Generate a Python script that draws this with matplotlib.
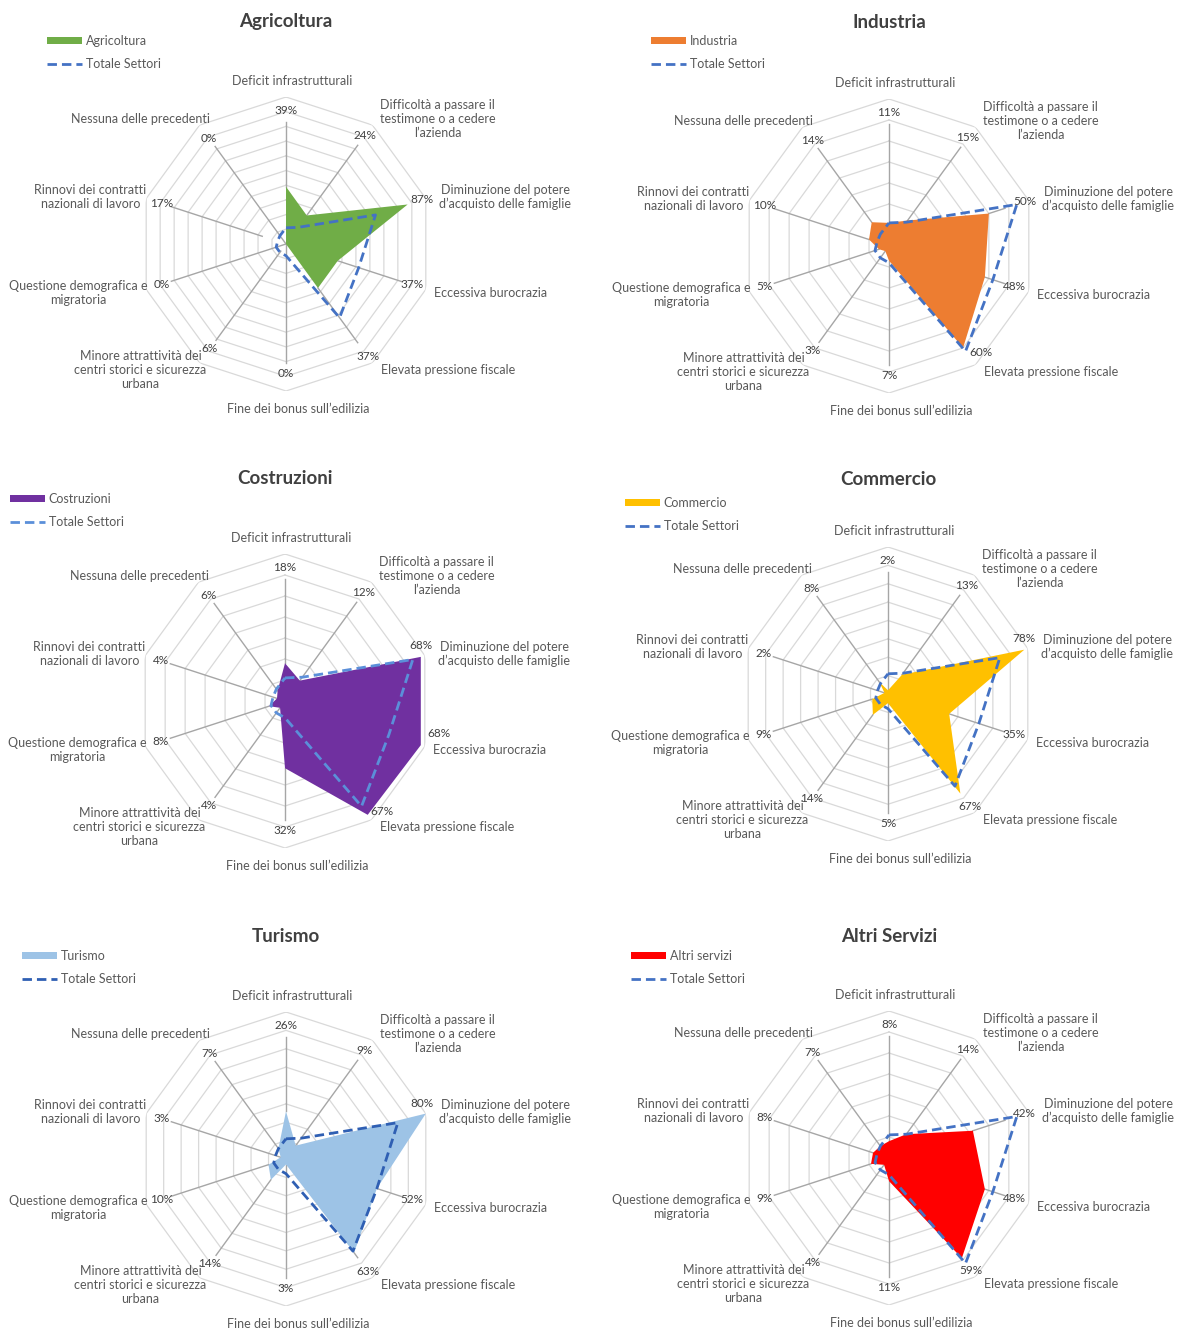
import numpy as np
import matplotlib.pyplot as plt
from matplotlib.patches import Patch
from matplotlib.lines import Line2D

plt.rcParams['font.family'] = ['Lato', 'DejaVu Sans']

# --- dati (%) ---
categorie = [
    "Deficit infrastrutturali",
    "Difficoltà a passare il\ntestimone o a cedere\nl’azienda",
    "Diminuzione del potere\nd’acquisto delle famiglie",
    "Eccessiva burocrazia",
    "Elevata pressione fiscale",
    "Fine dei bonus sull’edilizia",
    "Minore attrattività dei\ncentri storici e sicurezza\nurbana",
    "Questione demografica e\nmigratoria",
    "Rinnovi dei contratti\nnazionali di lavoro",
    "Nessuna delle precedenti",
]

agricoltura = [39, 24, 87, 37, 37, 0, 6, 0, 17, 0]
industria = [11, 15, 50, 48, 60, 7, 3, 5, 10, 14]
costruzioni = [18, 12, 68, 68, 67, 32, 4, 8, 4, 6]
commercio = [2, 13, 78, 35, 67, 5, 14, 9, 2, 8]
turismo = [26, 9, 80, 52, 63, 3, 14, 10, 3, 7]
altri_servizi = [8, 14, 42, 48, 59, 11, 4, 9, 8, 7]
totale_settori = [11, 14, 64, 52, 62, 8, 7, 7, 6, 7]

settori = [agricoltura, industria, costruzioni, commercio, turismo, altri_servizi]
nomi_legenda = ["Agricoltura", "Industria", "Costruzioni", "Commercio", "Turismo", "Altri servizi"]
titoli = ["Agricoltura", "Industria", "Costruzioni", "Commercio", "Turismo", "Altri Servizi"]
scala_max = [100, 70, 70, 80, 80, 70]

# --- stile e layout (pixel) ---
colori = ["#70AD47", "#ED7D31", "#7030A0", "#FFC000", "#9DC3E6", "#FF0000"]
blu_tot = ["#4472C4", "#4472C4", "#5B8FD9", "#4472C4", "#2F5FB3", "#4472C4"]
centri = [(286, 244), (889, 246), (285, 701), (888, 694), (286, 1159), (889, 1158)]
titolo_y = [22, 22, 479, 480, 937, 937]
legenda_xy = [(47, 35), (651, 35), (10, 493), (625, 497), (22, 950), (631, 950)]
R = 147
W, H = 1187, 1329

# posizione delle etichette di categoria (in unità del raggio)
pos_cat = [(0.04, 1.11), (1.03, 0.85), (1.49, 0.32), (1.39, -0.33), (1.10, -0.86),
           (0.08, -1.12), (-0.99, -0.86), (-1.41, -0.33), (-1.33, 0.32), (-0.99, 0.85)]
# etichette percentuali: raggio di base, raggio massimo e rotazione (gradi) vicino al bordo
lab_base = [0.91, 0.91, 0.97, 0.9, 0.95, 0.88, 0.88, 0.89, 0.89, 0.89]
lab_rmax = [0.99, 0.99, 1.0, 1.07, 1.0, 0.99, 0.99, 0.99, 0.99, 0.99]
lab_ruota = [0, 0, -4, -6, -5, 0, 0, 0, 0, 0]

GRIGIO_TESTO = "#595959"
GRIGIO_GRIGLIA = "#D9D9D9"
GRIGIO_GUIDA = "#A6A6A6"
TRATTEGGIO = (0, (3.4, 1.8))

fig = plt.figure(figsize=(W / 100, H / 100), dpi=100)

n = len(categorie)
theta = np.arange(n) * 2 * np.pi / n
theta_c = np.append(theta, theta[0])

for k in range(6):
    cx, cy = centri[k]
    rmax = scala_max[k]
    ax = fig.add_axes([(cx - R) / W, 1 - (cy + R) / H, 2 * R / W, 2 * R / H],
                      projection='polar')
    ax.set_theta_zero_location('N')
    ax.set_theta_direction(-1)
    ax.set_ylim(0, rmax)
    ax.grid(False)
    ax.set_xticks([])
    ax.set_yticks([])
    ax.spines['polar'].set_visible(False)
    ax.patch.set_alpha(0)

    # griglia a decagono
    for r in range(10, rmax + 1, 10):
        ax.plot(theta_c, [r] * (n + 1), color=GRIGIO_GRIGLIA, lw=0.9, zorder=1)

    vals = settori[k]
    # linee guida ed etichette percentuali
    for i in range(n):
        v = vals[i]
        f = v / rmax + 0.1
        if f > lab_base[i]:
            r_lab = min(f, lab_rmax[i]) * rmax
            t_lab = theta[i] + np.radians(lab_ruota[i])
        else:
            r_lab = lab_base[i] * rmax
            t_lab = theta[i]
        r_fine = min(r_lab, 0.9 * rmax) - 0.07 * rmax
        if r_fine > v:
            ax.plot([theta[i], theta[i]], [v, r_fine], color=GRIGIO_GUIDA, lw=1, zorder=2)
        ax.text(t_lab, r_lab, f"{v}%", ha='center', va='center',
                fontsize=8.5, color="#404040", zorder=6)

    ax.fill(theta_c, np.append(vals, vals[0]), color=colori[k], lw=0, zorder=3)
    ax.plot(theta_c, np.append(totale_settori, totale_settori[0]), color=blu_tot[k],
            lw=2, linestyle=TRATTEGGIO, zorder=4)

    for i in range(n):
        dx, dy = pos_cat[i]
        ax.text(0.5 + dx / 2, 0.5 + dy / 2, categorie[i], transform=ax.transAxes,
                ha='center', va='center', multialignment='center',
                fontsize=9, color=GRIGIO_TESTO, linespacing=1.2)

    fig.text(cx / W, 1 - titolo_y[k] / H, titoli[k], ha='center', va='center',
             fontsize=13.5, fontweight='bold', color="#404040")

    lx, ly = legenda_xy[k]
    maniglie = [Patch(facecolor=colori[k], edgecolor='none'),
                Line2D([0], [0], color=blu_tot[k], lw=2, linestyle=TRATTEGGIO)]
    fig.legend(maniglie, [nomi_legenda[k], "Totale Settori"], loc='upper left',
               bbox_to_anchor=(lx / W, 1 - ly / H), frameon=False, fontsize=9,
               borderpad=0, borderaxespad=0, handlelength=2.8, handleheight=0.55,
               handletextpad=0.3, labelspacing=0.85, labelcolor=GRIGIO_TESTO)

fig.savefig("out.png", dpi=100, facecolor='white')
